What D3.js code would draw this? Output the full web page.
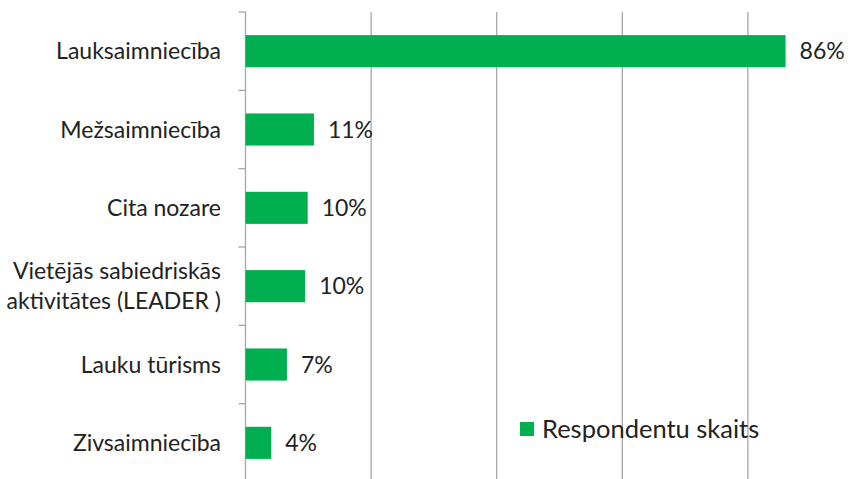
<!DOCTYPE html>
<html>
<head>
<meta charset="utf-8">
<script src="https://cdn.jsdelivr.net/npm/d3@7"></script>
<style>
  body { margin: 0; background: #fff; }
  svg { display: block; font-family: Lato, "Noto Sans", sans-serif; }
</style>
</head>
<body>
<svg id="chart" width="859" height="479"></svg>
<script>
// Data
var categories = [
    ["Lauksaimniecība"],
    ["Mežsaimniecība"],
    ["Cita nozare"],
    ["Vietējās sabiedriskās", "aktivitātes (LEADER )"],
    ["Lauku tūrisms"],
    ["Zivsaimniecība"]
];
var values = [86, 10.9, 9.9, 9.5, 6.6, 4.1];
var valueLabels = ["86%", "11%", "10%", "10%", "7%", "4%"];
var gridTicks = [20, 40, 60, 80, 100];
var seriesName = "Respondentu skaits";

var barColor = "#00b050";
var gridColor = "#a6a6a6";
var textColor = "#222";
var fontSize = "23px";

var margin = {top: 12, left: 245.5};
var plotW = 628;   // 0..100 %, runs past the right edge like the original
var plotH = 470;   // runs past the bottom edge like the original

var svg = d3.select("#chart");
var g = svg.append("g")
    .attr("transform", "translate(" + margin.left + "," + margin.top + ")");

var x = d3.scaleLinear()
    .domain([0, 100])
    .range([0, plotW]);

var y = d3.scaleBand()
    .domain(d3.range(categories.length))
    .range([0, plotH])
    .paddingInner(0.59)
    .paddingOuter(0.295);

// vertical gridlines
g.selectAll("line.grid")
    .data(gridTicks)
    .enter()
    .append("line")
    .attr("class", "grid")
    .attr("x1", function(d) { return x(d); })
    .attr("x2", function(d) { return x(d); })
    .attr("y1", 0)
    .attr("y2", plotH)
    .attr("stroke", gridColor)
    .attr("stroke-width", 1.3);

// category axis line + tick marks at band edges
g.append("line")
    .attr("x1", 0).attr("x2", 0)
    .attr("y1", 0).attr("y2", plotH)
    .attr("stroke", gridColor)
    .attr("stroke-width", 1.3);

g.selectAll("line.tick")
    .data(d3.range(categories.length + 1))
    .enter()
    .append("line")
    .attr("class", "tick")
    .attr("x1", -7).attr("x2", 0)
    .attr("y1", function(i) { return i * y.step(); })
    .attr("y2", function(i) { return i * y.step(); })
    .attr("stroke", gridColor)
    .attr("stroke-width", 1.3);

// bars
g.selectAll("rect.bar")
    .data(values)
    .enter()
    .append("rect")
    .attr("class", "bar")
    .attr("x", 0)
    .attr("y", function(d, i) { return y(i); })
    .attr("width", function(d) { return x(d); })
    .attr("height", y.bandwidth())
    .attr("fill", barColor);

// value labels
g.selectAll("text.val")
    .data(values)
    .enter()
    .append("text")
    .attr("class", "val")
    .text(function(d, i) { return valueLabels[i]; })
    .attr("x", function(d) { return x(d) + 14; })
    .attr("y", function(d, i) { return y(i) + y.bandwidth() / 2; })
    .attr("dy", "0.35em")
    .attr("fill", textColor)
    .style("font-size", fontSize);

// category labels
var lineH = 30;
var cat = g.selectAll("text.cat")
    .data(categories)
    .enter()
    .append("text")
    .attr("class", "cat")
    .attr("text-anchor", "end")
    .attr("fill", textColor)
    .style("font-size", fontSize);

cat.each(function(lines, i) {
    var cy = y(i) + y.bandwidth() / 2;
    var y0 = cy - (lines.length - 1) * lineH / 2;
    d3.select(this).selectAll("tspan")
        .data(lines)
        .enter()
        .append("tspan")
        .attr("x", -24.5)
        .attr("y", function(d, j) { return y0 + j * lineH; })
        .attr("dy", "0.35em")
        .text(function(d) { return d; });
});

// legend
var legend = svg.append("g")
    .attr("transform", "translate(520,422)");
legend.append("rect")
    .attr("width", 14)
    .attr("height", 14)
    .attr("fill", barColor);
legend.append("text")
    .attr("x", 22)
    .attr("y", 7)
    .attr("dy", "0.35em")
    .attr("fill", textColor)
    .style("font-size", "25.5px")
    .text(seriesName);
</script>
</body>
</html>
